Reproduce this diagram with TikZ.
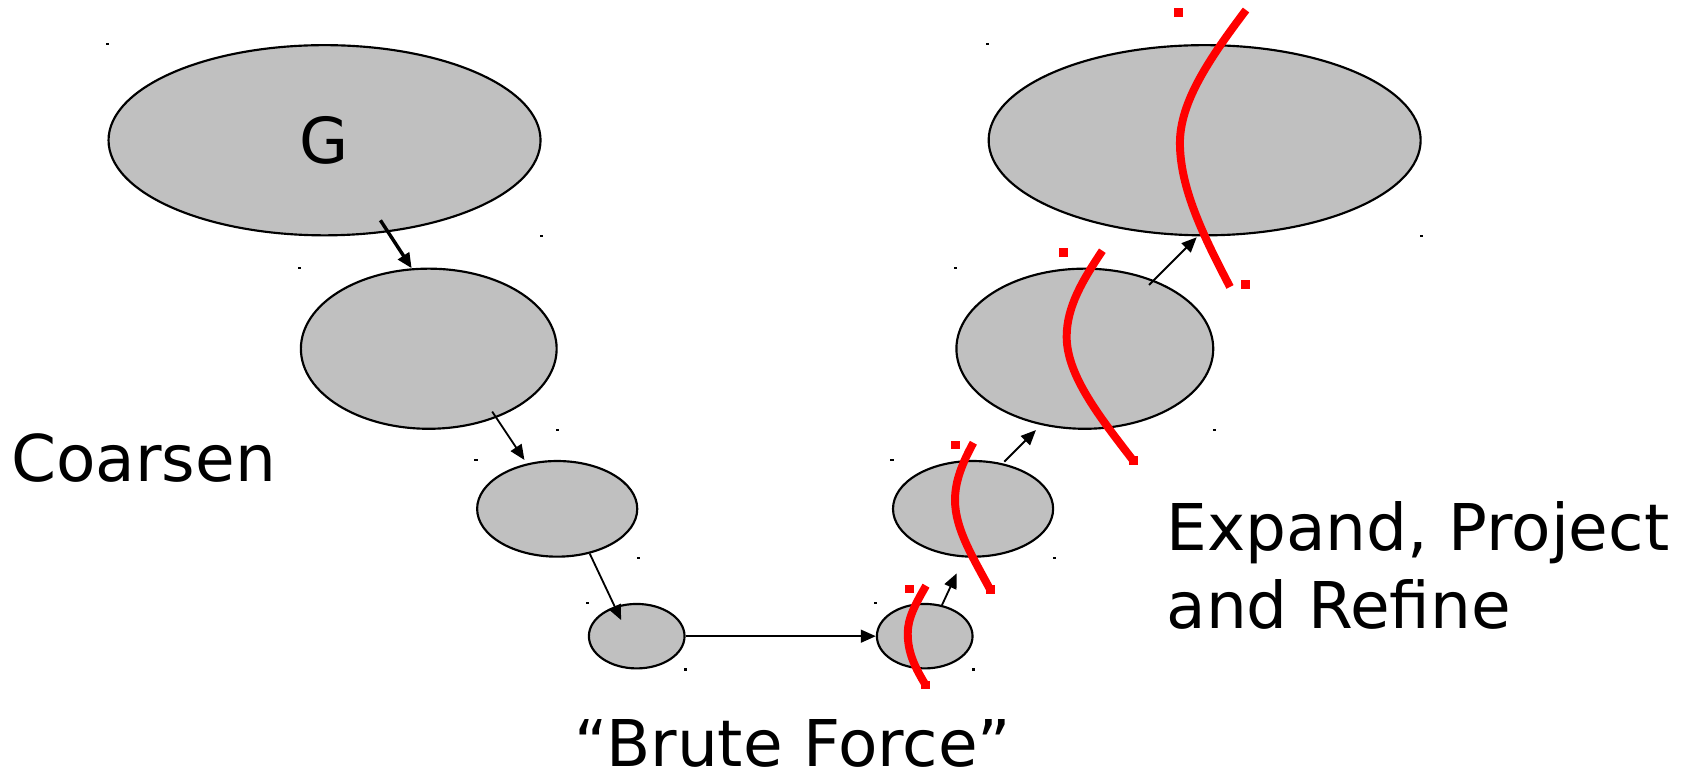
\documentclass[tikz,border=0pt]{standalone}
\usepackage{fontspec}
\setmainfont{DejaVu Sans}
\usetikzlibrary{shapes.geometric,arrows.meta}
\definecolor{blobgray}{RGB}{192,192,192}
\begin{document}
\begin{tikzpicture}[x=1pt,y=-1pt,
  blob/.style={ellipse,draw=black,fill=blobgray,line width=2pt,inner sep=0pt},
  arr/.style={-{Triangle[length=14pt,width=12pt]},line width=1.7pt},
  cut/.style={draw=red,line width=7.4pt},
  lbl/.style={inner sep=0pt,font=\fontsize{60}{72}\selectfont}
]
\useasboundingbox (0,0) rectangle (1568,718);

% coarsening side
\node[blob,minimum width=402pt,minimum height=177pt,font=\fontsize{59}{72}\selectfont] (a) at (302,130.5) {G};
\node[blob,minimum width=238pt,minimum height=149pt] (b) at (399,324.5) {};
\node[blob,minimum width=149pt,minimum height=89pt] (c) at (518.5,473.5) {};
\node[blob,minimum width=89pt,minimum height=60pt] (d) at (592.5,592) {};
% refinement side
\node[blob,minimum width=89pt,minimum height=60pt] (e) at (860.5,592) {};
\node[blob,minimum width=149pt,minimum height=89pt] (f) at (905.5,473.5) {};
\node[blob,minimum width=239pt,minimum height=149pt] (h) at (1009.5,324.5) {};
\node[blob,minimum width=402pt,minimum height=177pt] (i) at (1121,130.5) {};

% small corner marks of each graph
\foreach \n in {a,b,c,d,e,f,h,i}{
  \fill (\n.west |- \n.north) ++(-1.5,-1) rectangle ++(3,2);
  \fill (\n.east |- \n.south) ++(-1.5,-1) rectangle ++(3,2);
}

% arrow end points
\coordinate (ab) at (354,205);
\coordinate (bc) at (458,383);
\coordinate (ct) at (488,428);
\coordinate (dt) at (578,577);
\coordinate (ft) at (890.3,533.5);
\coordinate (fh) at (934.6,429.6);
\coordinate (ht) at (964,400.2);
\coordinate (hi) at (1069.2,265.2);
\coordinate (it) at (1113.6,220.8);

\draw[arr,line width=3.2pt] (ab) -- (b.102);
\draw[arr] (bc) -- (ct);
\draw[arr] (c.-54) -- (dt);
\draw[arr] (d.east) -- (e.west);
\draw[arr] (e.61) -- (ft);
\draw[arr] (fh) -- (ht);
\draw[arr] (hi) -- (it);

% partition cuts
\draw[cut] (1159.5,9.3) .. controls (1125,55) and (1098,95) .. (1098,133)
  .. controls (1098,175) and (1120,220) .. (1144.6,267);
\draw[cut] (1025.8,233.3) .. controls (1008,260) and (992.6,285) .. (992.6,313.3)
  .. controls (992.6,350) and (1025,390) .. (1054.6,428.7);
\draw[cut] (905.8,412) .. controls (896,430) and (888.7,447) .. (888.7,465.3)
  .. controls (888.7,492) and (905,518) .. (921.3,548.4);
\draw[cut] (861.7,545) .. controls (852,562) and (844.7,575) .. (844.7,589.4)
  .. controls (844.7,608) and (852,622) .. (861.4,637.5);

% red end marks
\foreach \p in {(1097,11.8),(1159,265),(990,235),(1054.6,428.7),(888.7,414),(921.3,548.4),(845.9,548),(861.4,637.5)}{
  \fill[red] \p ++(-4.2,-4) rectangle ++(8.4,8);
}

% labels
\node[lbl,anchor=base west] (coarsen) at (10.5,447.6) {Coarsen};
\node[lbl,anchor=base west,align=left] (refine) at (1085.3,584.7) {Expand, Project\\and Refine};
\node[lbl,anchor=base] (brute) at (738,713) {“Brute Force”};
\end{tikzpicture}
\end{document}
